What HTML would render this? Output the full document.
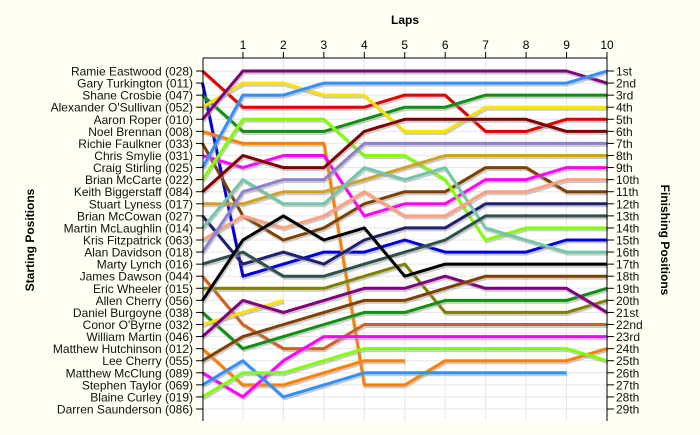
<!DOCTYPE html>
<html><head><meta charset="utf-8"><style>
body{margin:0;background:#fffff4;}
svg{display:block;font-family:"Liberation Sans",sans-serif;}
</style></head><body>
<svg id="chart" width="700" height="435" viewBox="0 0 700 435">
<rect x="0" y="0" width="700" height="435" fill="#fffff4"/>
<rect x="203" y="58" width="404" height="363" fill="#ffffff"/>
<g id="grid"></g>
<g id="series"></g>
<g id="axes"></g>
<text x="405" y="24" text-anchor="middle" font-size="12" font-weight="bold">Laps</text>
<text transform="translate(34,240) rotate(-90)" text-anchor="middle" font-size="12" font-weight="bold">Starting Positions</text>
<text transform="translate(661,240) rotate(90)" text-anchor="middle" font-size="12" font-weight="bold">Finishing Positions</text>
</svg>
<script>
const laps = [0,1,2,3,4,5,6,7,8,9,10];
const drivers = ["Ramie Eastwood (028)","Gary Turkington (011)","Shane Crosbie (047)","Alexander O'Sullivan (052)","Aaron Roper (010)","Noel Brennan (008)","Richie Faulkner (033)","Chris Smylie (031)","Craig Stirling (025)","Brian McCarte (022)","Keith Biggerstaff (084)","Stuart Lyness (017)","Brian McCowan (027)","Martin McLaughlin (014)","Kris Fitzpatrick (063)","Alan Davidson (018)","Marty Lynch (016)","James Dawson (044)","Eric Wheeler (015)","Allen Cherry (056)","Daniel Burgoyne (038)","Conor O'Byrne (032)","William Martin (046)","Matthew Hutchinson (012)","Lee Cherry (055)","Matthew McClung (089)","Stephen Taylor (069)","Blaine Curley (019)","Darren Saunderson (086)"];
const finishLabels = ["1st","2nd","3rd","4th","5th","6th","7th","8th","9th","10th","11th","12th","13th","14th","15th","16th","17th","18th","19th","20th","21st","22nd","23rd","24th","25th","26th","27th","28th","29th"];
const colors = ["#e00000","#0000dd","#109010","#ffe000","#800080","#ff8000","#804000","#ff00ff","#3090ff","#80ff00","#800000","#d4a020","#202070","#70c8a8","#ffa080","#9080d0","#305050","#d06020","#808000","#000000","#109010","#ffe000","#800080","#ff8000","#804000","#ff00ff","#3090ff","#80ff00","#808080"];
const p01 = [1,4,4,4,4,3,3,6,6,5,5];
const p02 = [2,18,17,16,16,15,16,16,16,15,15];
const p03 = [3,6,6,6,5,4,4,3,3,3,3];
const p04 = [4,2,2,3,3,6,6,4,4,4,4];
const p05 = [5,1,1,1,1,1,1,1,1,1,2];
const p06 = [6,7,7,7,27,27,25,25,25,25,24];
const p07 = [7,13,15,14,12,11,11,9,9,11,11];
const p08 = [8,9,8,8,13,12,12,10,10,9,9];
const p09 = [9,3,3,2,2,2,2,2,2,2,1];
const p10 = [10,5,5,5,8,8,10,15,14,14,14];
const p11 = [11,8,9,9,6,5,5,5,5,6,6];
const p12 = [12,12,11,11,10,9,8,8,8,8,8];
const p13 = [13,17,16,17,15,14,14,12,12,12,12];
const p14 = [14,10,12,12,9,10,9,14,15,16,16];
const p15 = [15,13,14,13,11,13,13,11,11,10,10];
const p16 = [16,11,10,10,7,7,7,7,7,7,7];
const p17 = [17,16,18,18,17,16,15,13,13,13,13];
const p18 = [18,22,24,24,22,22,22,22,22,22,22];
const p19 = [19,19,19,19,18,17,21,21,21,21,20];
const p20 = [20,15,13,15,14,18,17,17,17,17,17];
const p21 = [21,24,23,22,21,21,20,20,20,20,19];
const p22 = [22,21,20,null,null,null,null,null,null,null,null];
const p23 = [23,20,21,20,19,19,18,19,19,19,21];
const p24 = [24,27,27,26,25,25,null,null,null,null,null];
const p25 = [25,23,22,21,20,20,19,18,18,18,18];
const p26 = [26,28,25,23,23,23,23,23,23,23,23];
const p27 = [27,25,28,27,26,26,26,26,26,26,null];
const p28 = [28,26,26,25,24,24,24,24,24,24,25];
const p29 = [29,null,null,null,null,null,null,null,null,null,null];
const positions = [p01,p02,p03,p04,p05,p06,p07,p08,p09,p10,p11,p12,p13,p14,p15,p16,p17,p18,p19,p20,p21,p22,p23,p24,p25,p26,p27,p28,p29];

const NS="http://www.w3.org/2000/svg";
const X0=202.5, X1=607, Y1=71, Y29=409;
function xScale(l){return X0+(X1-X0)*l/10;}
function yScale(p){return Y1+(Y29-Y1)*(p-1)/28;}
function mk(tag,attrs,parent){const e=document.createElementNS(NS,tag);for(const k in attrs)e.setAttribute(k,attrs[k]);parent.appendChild(e);return e;}
const grid=document.getElementById('grid'), series=document.getElementById('series'), axes=document.getElementById('axes');

for(let i=0;i<drivers.length;i++){
  const g=mk('line',{x1:203,x2:607,y1:yScale(i+1),y2:yScale(i+1),stroke:'#e6e6e6','stroke-width':1},grid);
  
  
}
laps.forEach(l=>{
  if(l===0)return;
  const g=mk('line',{x1:xScale(l),x2:xScale(l),y1:58,y2:421,stroke:'#e6e6e6','stroke-width':1},grid);
  
  
});

positions.forEach((arr,i)=>{
  const pts=[];
  arr.forEach((p,l)=>{if(p!==null)pts.push(xScale(laps[l]).toFixed(1)+','+yScale(p).toFixed(1));});
  if(pts.length<2)return;
  const sh=mk('polyline',{points:pts.join(' '),fill:'none',stroke:'#a0a0a0','stroke-opacity':0.55,'stroke-width':3,transform:'translate(1,2)','stroke-linejoin':'round'},series);
  
  
  const ln=mk('polyline',{points:pts.join(' '),fill:'none',stroke:colors[i],'stroke-width':3,'stroke-linejoin':'round'},series);
  
  
});

const axl=[[203,58,607,58],[203,58,203,421],[607,58,607,421]];
axl.forEach(a=>{
  const e=mk('line',{x1:a[0],y1:a[1],x2:a[2],y2:a[3],stroke:'#000','stroke-width':1},axes);
  
  
});
laps.forEach(l=>{
  if(l===0)return;
  const t=mk('line',{x1:xScale(l),x2:xScale(l),y1:52,y2:58,stroke:'#000'},axes);
  
  
  const tx=mk('text',{x:xScale(l),y:49,'text-anchor':'middle','font-size':12},axes);
  tx.textContent=l;
  
  
});
drivers.forEach((d,i)=>{
  const y=yScale(i+1);
  const t=mk('line',{x1:196,x2:203,y1:y,y2:y,stroke:'#000'},axes);
  
  
  const tx=mk('text',{x:193,y:y+4.5,'text-anchor':'end','font-size':12,fill:'#111'},axes);
  tx.textContent=d;
  
  
});
finishLabels.forEach((f,i)=>{
  const y=yScale(i+1);
  const t=mk('line',{x1:607,x2:614,y1:y,y2:y,stroke:'#000'},axes);
  
  
  const tx=mk('text',{x:616,y:y+4.5,'font-size':12,fill:'#111'},axes);
  tx.textContent=f;
  
  
});
</script>
</body></html>
